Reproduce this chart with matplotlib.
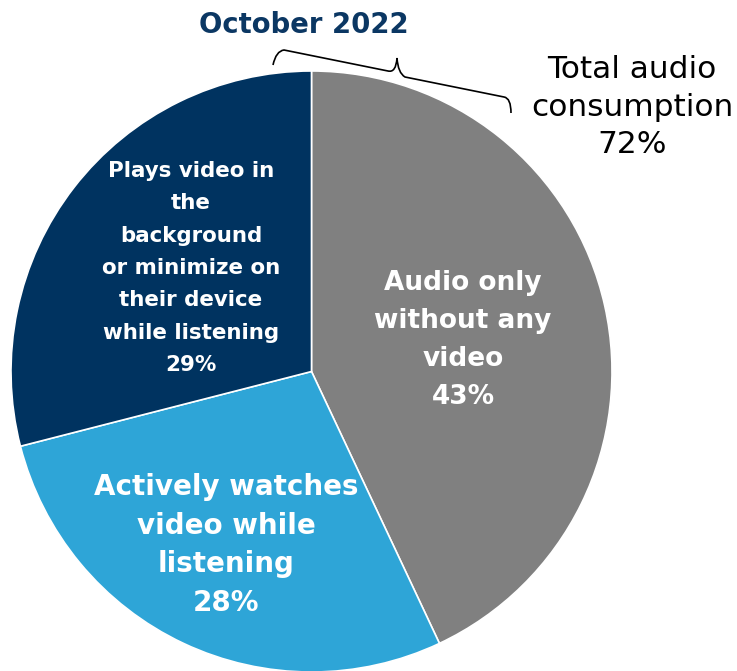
import matplotlib.pyplot as plt
from matplotlib.path import Path
from matplotlib.patches import PathPatch

# slices, clockwise from 12 o'clock
labels = ["Audio only\nwithout any\nvideo",
          "Actively watches\nvideo while\nlistening",
          "Plays video in\nthe\nbackground\nor minimize on\ntheir device\nwhile listening"]
shares = [43, 28, 29]
colors = ["#808080", "#2EA5D7", "#003360"]
total_audio = 72
title = "October 2022"

W, H = 737, 671
fig = plt.figure(figsize=(W / 100, H / 100), dpi=100)
ax = fig.add_axes([0, 0, 1, 1])

# work in pixel units, y measured from the top
cx, cy, r = 311.5, 371.5, 300.5
ax.pie(shares, colors=colors, startangle=90, counterclock=False,
       center=(cx, H - cy), radius=r,
       wedgeprops=dict(edgecolor="white", linewidth=1.2))
ax.set_xlim(0, W)
ax.set_ylim(0, H)
ax.set_aspect("equal")
ax.axis("off")

font = "DejaVu Sans"


def txt(x, y, s, **kw):
    ax.text(x, H - y, s, ha="center", va="center", family=font, **kw)


txt(463, 340, labels[0] + f"\n{shares[0]}%", color="white",
    fontsize=19, fontweight="bold", linespacing=1.6)
txt(226, 545, labels[1] + f"\n{shares[1]}%", color="white",
    fontsize=20, fontweight="bold", linespacing=1.49)
txt(191, 268, labels[2] + f"\n{shares[2]}%", color="white",
    fontsize=15.4, fontweight="bold", linespacing=1.77)

txt(304, 25, title, color="#0B3763", fontsize=19.8, fontweight="bold")
txt(632, 107, f"Total audio\nconsumption\n{total_audio}%", color="black",
    fontsize=22.5, linespacing=1.36)

# curly brace over the audio-only slices
pts = [(273, 65), (276, 51), (284, 50),
       (388, 71),
       (396, 73), (397, 58),
       (398, 73), (405, 77),
       (504, 97),
       (511, 98), (511, 113)]
codes = [Path.MOVETO, Path.CURVE3, Path.CURVE3,
         Path.LINETO,
         Path.CURVE3, Path.CURVE3,
         Path.CURVE3, Path.CURVE3,
         Path.LINETO,
         Path.CURVE3, Path.CURVE3]
brace = Path([(x, H - y) for x, y in pts], codes)
ax.add_patch(PathPatch(brace, facecolor="none", edgecolor="black", lw=1.2))

fig.savefig("out.png", dpi=100)
